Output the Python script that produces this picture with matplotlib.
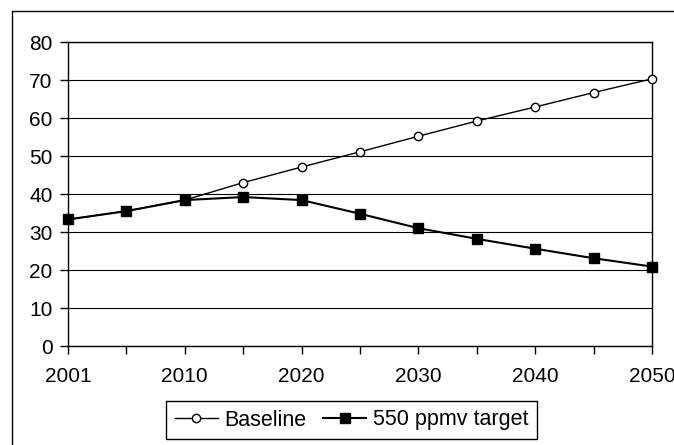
import numpy as np
import matplotlib
matplotlib.use("Agg")
import matplotlib.pyplot as plt
from matplotlib.patches import Rectangle

plt.rcParams["font.family"] = ["Liberation Sans", "DejaVu Sans"]

YEARS = ["2001", "2005", "2010", "2015", "2020", "2025",
         "2030", "2035", "2040", "2045", "2050"]
BASELINE = [33.3, 35.5, 38.4, 43.0, 47.1, 51.1, 55.2, 59.2, 62.9, 66.7, 70.3]
TARGET = [33.3, 35.5, 38.4, 39.2, 38.4, 34.8, 31.0, 28.2, 25.6, 23.1, 20.9]
SHOWN = {"2001", "2010", "2020", "2030", "2040", "2050"}

W, H = 674, 445
fig = plt.figure(figsize=(W / 100, H / 100), dpi=100)
ax = fig.add_axes([68 / W, 1 - 346 / H, (652 - 68) / W, (346 - 42) / H])

x = np.arange(len(YEARS))
ax.plot(x, BASELINE, color="black", linewidth=1.0, marker="o", markersize=6,
        markerfacecolor="white", markeredgecolor="black", markeredgewidth=1.0,
        label="Baseline", zorder=3, clip_on=False)
ax.plot(x, TARGET, color="black", linewidth=1.5, marker="s", markersize=6.5,
        markerfacecolor="black", markeredgecolor="black",
        label="550 ppmv target", zorder=4, clip_on=False)

ax.set_xlim(0, len(YEARS) - 1)
ax.set_ylim(0, 80)
ax.set_yticks(np.arange(0, 81, 10))
ax.set_xticks(x)
ax.set_xticklabels([y if y in SHOWN else "" for y in YEARS])
ax.grid(axis="y", color="black", linewidth=0.8, zorder=0)
for s in ax.spines.values():
    s.set_color("black")
    s.set_linewidth(1.0)
ax.tick_params(axis="both", direction="out", length=6, width=1.0,
               labelsize=15, colors="black")
ax.tick_params(axis="x", pad=9)
ax.tick_params(axis="y", pad=5)

leg = ax.legend(loc="center", bbox_to_anchor=((171 + 532) / 2 / W, 1 - 420 / H),
                bbox_transform=fig.transFigure, ncol=2, fontsize=15.5,
                frameon=True, fancybox=False, edgecolor="black", framealpha=1,
                borderpad=0.4, handlelength=2.0, handletextpad=0.3,
                columnspacing=0.8, borderaxespad=0)
leg.get_frame().set_linewidth(1.0)

fig.patches.append(Rectangle((12 / W, -0.1), 1.1, 1 - 11 / H + 0.1,
                             transform=fig.transFigure, fill=False,
                             edgecolor="black", linewidth=1.0))

fig.savefig("out.png", dpi=100)
